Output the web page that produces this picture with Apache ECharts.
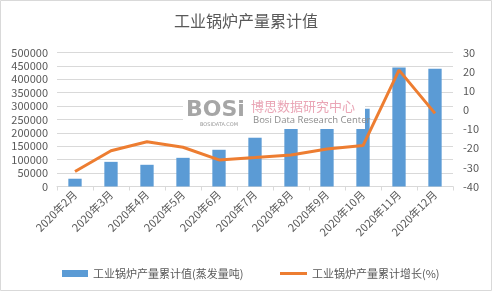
<!DOCTYPE html>
<html><head><meta charset="utf-8">
<script src="https://cdn.jsdelivr.net/npm/echarts@6/dist/echarts.min.js"></script>
<style>html,body{margin:0;padding:0;background:#fff}#c{width:492px;height:291px}</style>
</head><body><div id="c"></div>
<script>
const categories = ['2020年2月','2020年3月','2020年4月','2020年5月','2020年6月','2020年7月','2020年8月','2020年9月','2020年10月','2020年11月','2020年12月'];
const outputValues = [29000, 92000, 81000, 107000, 137000, 182000, 222000, 255000, 290000, 444000, 439000];
const growthValues = [-32.2, -21.3, -16.6, -19.5, -26.1, -24.9, -23.5, -20.4, -18.6, 20.8, -1.8];
const seriesNames = ['工业锅炉产量累计值(蒸发量吨)', '工业锅炉产量累计增长(%)'];
const titleText = '工业锅炉产量累计值';

const font = '"Noto Sans CJK SC", "Microsoft YaHei", sans-serif';
const txt = '#595959';
const chart = echarts.init(document.getElementById('c'), null, {renderer: 'canvas'});
chart.setOption({
  animation: false,
  textStyle: {fontFamily: font},
  title: {text: titleText, left: 'center', top: 8, textStyle: {fontSize: 16, fontWeight: 'normal', color: txt, fontFamily: font}},
  grid: {left: 57, right: 39, top: 52.5, bottom: 104.5},
  legend: [
    {left: 57, top: 263, itemWidth: 26, itemHeight: 7,
     textStyle: {fontSize: 11, color: txt, fontFamily: font},
     data: [{name: seriesNames[0], icon: 'rect'}]},
    {left: 275, top: 263, itemWidth: 27, itemHeight: 3,
     textStyle: {fontSize: 11, color: txt, fontFamily: font},
     data: [{name: seriesNames[1], icon: 'rect', itemStyle: {color: '#ED7D31'}}]}
  ],
  xAxis: {
    type: 'category', data: categories, boundaryGap: true,
    axisLine: {lineStyle: {color: '#D9D9D9'}},
    axisTick: {show: true, alignWithLabel: false, length: 4, lineStyle: {color: '#D9D9D9'}},
    axisLabel: {rotate: 45, fontSize: 11, color: txt, interval: 0, margin: 6, fontFamily: font}
  },
  yAxis: [
    {type: 'value', min: 0, max: 500000, interval: 50000,
     axisLine: {show: false}, axisTick: {show: false},
     axisLabel: {fontSize: 11, color: txt, margin: 9, fontFamily: font, formatter: v => String(v)},
     splitLine: {lineStyle: {color: '#D9D9D9'}}},
    {type: 'value', min: -40, max: 30, interval: 10,
     axisLine: {show: false}, axisTick: {show: false},
     axisLabel: {fontSize: 11, color: txt, margin: 10, fontFamily: font},
     splitLine: {show: false}}
  ],
  series: [
    {name: seriesNames[0], type: 'bar', data: outputValues, barWidth: '37%', itemStyle: {color: '#5B9BD5'}, z: 2},
    {name: seriesNames[1], type: 'line', yAxisIndex: 1, data: growthValues, symbol: 'none', lineStyle: {color: '#ED7D31', width: 3}, itemStyle: {color: '#ED7D31'}, z: 5}
  ],
  graphic: [
    {type: 'rect', z: 3, shape: {x: 183, y: 99, width: 182, height: 30}, style: {fill: '#fff'}},
    {type: 'text', z: 4, left: 186, top: 99, style: {text: 'BOSi', fontSize: 22, fontWeight: 'bold', fill: '#a6a6a6', fontFamily: 'DejaVu Sans'}},
    {type: 'text', z: 4, left: 200, top: 122, style: {text: 'BOSIDATA.COM', fontSize: 5, fill: '#999', fontFamily: 'DejaVu Sans'}},
    {type: 'text', z: 4, left: 251, top: 100, style: {text: '博思数据研究中心', fontSize: 13, fill: '#eaa6b6', fontFamily: font}},
    {type: 'text', z: 4, left: 253, top: 115, style: {text: 'Bosi Data Research Center', fontSize: 9.5, fill: '#8c8c8c', fontFamily: 'Open Sans'}},
    {type: 'rect', z: 0, shape: {x: 0.5, y: 0.5, width: 491, height: 290}, style: {fill: 'none', stroke: '#D9D9D9', lineWidth: 1}}
  ]
});
</script></body></html>
